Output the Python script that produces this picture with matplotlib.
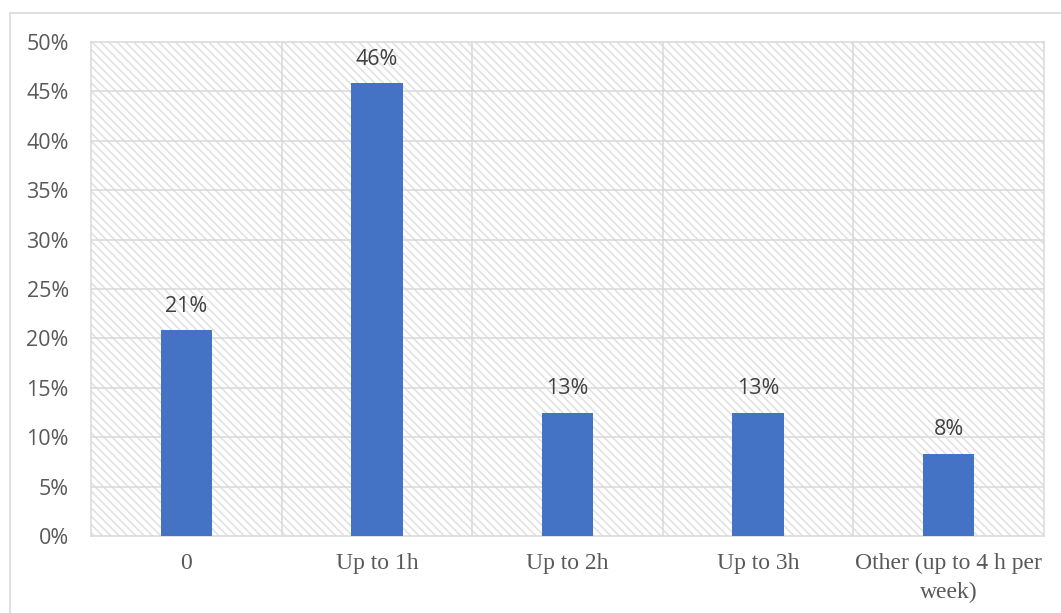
import matplotlib
matplotlib.use("Agg")
import matplotlib.pyplot as plt
from matplotlib.patches import Rectangle
from matplotlib.ticker import MultipleLocator, FuncFormatter
from decimal import Decimal, ROUND_HALF_UP

# weekly hours spent, share of respondents (%)
categories = ["0", "Up to 1h", "Up to 2h", "Up to 3h", "Other (up to 4 h per\nweek)"]
shares = [20.8, 45.8, 12.5, 12.5, 8.3]

BAR_COLOR = "#4472C4"
GRID_COLOR = "#d9d9d9"
TEXT_COLOR = "#595959"
LABEL_COLOR = "#404040"


def pct_label(v):
    # round half up like a spreadsheet does
    return f"{Decimal(str(v)).quantize(Decimal('1'), rounding=ROUND_HALF_UP)}%"


plt.rcParams["hatch.color"] = "#e2e2e2"
plt.rcParams["hatch.linewidth"] = 1.2

fig = plt.figure(figsize=(10.61, 6.13), dpi=100)

# chart border (only left/top edges fall inside the canvas)
fig.patches.append(Rectangle((10 / 1061, -0.1), 1.2, 1 - 13 / 613 + 0.1,
                             transform=fig.transFigure, fill=False,
                             edgecolor=GRID_COLOR, linewidth=1.2))

ax = fig.add_axes([91 / 1061, 1 - 536 / 613, (1044 - 91) / 1061, (536 - 42) / 613])

# diagonal pattern fill behind the grid
ax.add_patch(Rectangle((0, 0), 1, 1, transform=ax.transAxes, facecolor="white",
                       hatch="\\\\\\\\", edgecolor="#e2e2e2", linewidth=0, zorder=0))

x = range(len(categories))
bars = ax.bar(x, shares, width=0.27, color=BAR_COLOR, zorder=3)

for rect, v in zip(bars, shares):
    ax.annotate(pct_label(v), (rect.get_x() + rect.get_width() / 2, rect.get_height()),
                xytext=(0, 10), textcoords="offset points", ha="center", va="bottom",
                fontsize=15.5, family="Open Sans", color=LABEL_COLOR, zorder=4)

ax.set_xlim(-0.5, len(categories) - 0.5)
ax.set_ylim(0, 50)
ax.yaxis.set_major_locator(MultipleLocator(5))
ax.yaxis.set_major_formatter(FuncFormatter(lambda v, p: f"{v:.0f}%"))
ax.set_xticks(list(x))
ax.set_xticklabels(categories, family="Liberation Serif", fontsize=17,
                   color=TEXT_COLOR, linespacing=1.5)
for t in ax.get_yticklabels():
    t.set_family("Open Sans")
    t.set_fontsize(15.5)
    t.set_color(TEXT_COLOR)

ax.tick_params(axis="both", length=0)
ax.tick_params(axis="y", pad=16)
ax.tick_params(axis="x", pad=12)

# horizontal value grid and vertical category separators
for yv in range(5, 50, 5):
    ax.axhline(yv, color=GRID_COLOR, linewidth=1.1, zorder=1)
for xv in [i + 0.5 for i in range(len(categories) - 1)]:
    ax.axvline(xv, color=GRID_COLOR, linewidth=1.1, zorder=1)

for s in ax.spines.values():
    s.set_color(GRID_COLOR)
    s.set_linewidth(1.1)
    s.set_zorder(2)

fig.savefig("out.png", dpi=100)
